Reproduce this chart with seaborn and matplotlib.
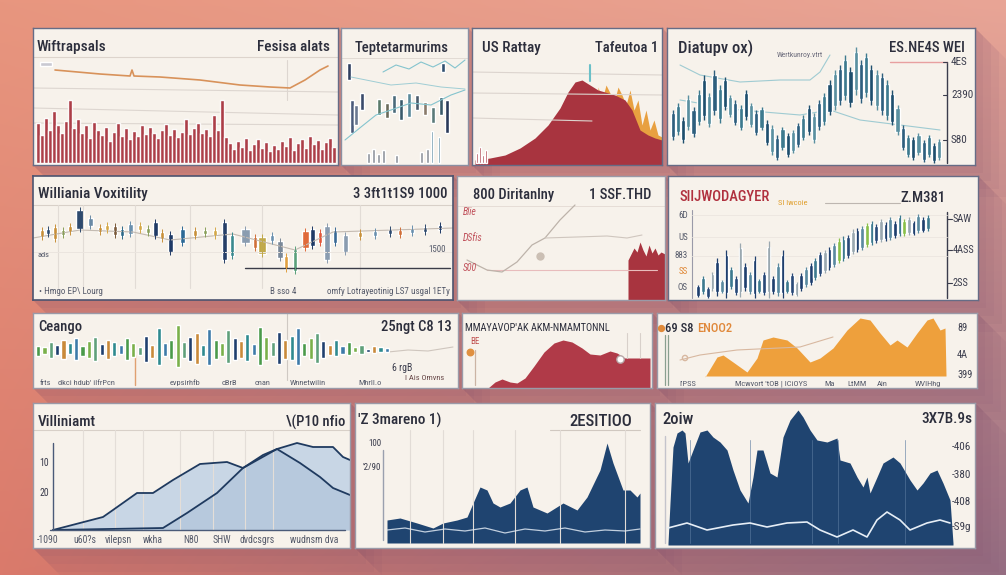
import numpy as np
import matplotlib
matplotlib.use("Agg")
import matplotlib.pyplot as plt
import matplotlib.colors as mcolors
from matplotlib.patches import Polygon
import seaborn as sns

# ---------------------------------------------------------------- data
# Panel A: spiky dark-red volume bars and an orange price line
A_bars = [40, 28, 45, 33, 52, 38, 30, 42, 63, 35, 44,
          30, 38, 25, 41, 33, 28, 36, 22, 31, 40, 27, 35, 24,
          32, 27, 38, 29, 36, 30, 25, 33, 39, 28, 34, 26,
          31, 44, 29, 35, 40, 30, 34, 27, 48, 33, 63, 26,
          20, 14, 22, 16, 25, 13, 19, 24, 15, 21, 12, 18,
          14, 22, 17, 26, 13, 20, 24, 15, 27, 19, 23, 14, 21, 25, 16]
A_line_x = [22, 67, 97, 99, 101, 127, 167, 207, 237, 257, 272, 287, 295]
A_line_y = [95, 91, 89, 95, 89, 88, 85, 80, 78, 77, 85, 95, 99]

# Panel B: candles and thin cyan lines
B_x = [8, 11, 15, 21, 38, 46, 53, 60, 68, 76, 84, 92, 100, 106, 102]
B_lo = [85, 32, 40, 55, 50, 47, 52, 45, 48, 55, 50, 42, 50, 32, 93]
B_hi = [102, 65, 60, 72, 66, 62, 70, 66, 72, 70, 63, 58, 68, 65, 102]
B_col = ['#2f3f5f', '#4a5a7a', '#6a7890', '#3a4a6a', '#5a7a6a', '#6a6a5a', '#4a6a7a',
         '#3a5a6a', '#5a8a9a', '#4a5a6a', '#8a7a6a', '#5a7a7a', '#3a5a6a', '#2a3a5a', '#2f4f6f']
B_small_x = [27, 32, 37, 42, 55, 80, 86]
B_small_h = [10, 14, 9, 13, 8, 11, 14]
B_tall_x = [91, 98]
B_tall_h = [32, 26]
B_l1_x = [4, 20, 35, 50, 70, 90, 110, 124]
B_l1_y = [25, 38, 50, 55, 62, 60, 70, 75]
B_l2_x = [42, 55, 68, 80, 92, 104, 114, 124]
B_l2_y = [93, 100, 96, 103, 98, 104, 97, 105]
B_l3_x = [10, 30, 50, 75, 100, 124]
B_l3_y = [88, 84, 80, 82, 78, 76]

# Panel C: red mountain with orange spikes
C_x = [3, 18, 33, 48, 63, 76, 88, 96, 103, 110, 118, 126, 133, 143, 153, 160, 168, 176, 183, 190]
C_y = [5, 7, 10, 17, 27, 40, 57, 73, 83, 85, 80, 75, 73, 70, 65, 55, 35, 30, 27, 25]
C_or_x = [126, 130, 134, 138, 142, 146, 150, 154, 158, 162, 166, 170, 174, 178, 182, 186, 190]
C_or_y = [78, 65, 80, 72, 62, 78, 70, 60, 75, 55, 65, 40, 55, 35, 45, 30, 28]
C_small_x = [5, 8, 11, 14]
C_small_h = [10, 16, 8, 13]

# Panel D: dense blue candles
D_lo = [25, 30, 22, 35, 28, 40, 45, 38, 50, 42, 55, 48, 40, 35, 45, 38, 30, 35,
        20, 10, 5, 15, 8, 12, 18, 25, 30, 22, 35, 40, 50, 55, 60, 65, 58, 70,
        62, 68, 60, 55, 50, 45, 40, 30, 15, 8, 5, 10, 3, 8, 2, 5]
D_hi = [55, 62, 48, 70, 58, 75, 90, 72, 95, 80, 88, 70, 65, 60, 75, 62, 55, 58,
        45, 40, 30, 38, 32, 35, 42, 50, 60, 52, 65, 72, 85, 95, 100, 110, 98, 118,
        105, 112, 100, 95, 92, 85, 75, 60, 40, 30, 28, 32, 25, 30, 22, 26]
D_l1_x = [13, 33, 73, 113, 143, 153, 163]
D_l1_y = [100, 90, 83, 85, 85, 93, 110]
D_l2_x = [13, 73, 133, 163, 193, 233, 273]
D_l2_y = [65, 55, 50, 55, 45, 40, 35]
D_ticks = ['4ES', '2390', 'S80']
D_tick_y = [103, 70, 25]

# Panel E: multicolour candles
E_x = [9, 15, 22, 30, 37, 47, 57, 67, 74, 82, 89, 97, 107, 115, 122, 129, 137, 149, 162, 172,
       182, 191, 199, 212, 222, 229, 239, 247, 253, 262, 272, 279, 287, 294, 302, 312, 327, 342,
       357, 367, 379, 392, 407]
E_lo = [63, 66, 61, 65, 68, 71, 74, 68, 70, 65, 64, 66, 70, 67, 64, 61, 48, 57, 64, 66,
        64, 40, 44, 57, 52, 46, 59, 42, 31, 29, 52, 54, 57, 40, 57, 48, 63, 64, 66, 65, 67, 68, 70]
E_hi = [70, 71, 73, 70, 74, 90, 82, 73, 75, 74, 71, 76, 75, 72, 78, 68, 66, 71, 70, 70,
        70, 78, 65, 71, 63, 63, 65, 59, 44, 51, 69, 71, 68, 74, 70, 65, 68, 69, 71, 70, 72, 73, 75]
E_w = [3, 3, 3, 3, 3, 7, 4, 3, 3, 3, 3, 4, 3, 3, 4, 3, 4, 4, 3, 3,
       3, 4, 3, 8, 3, 7, 3, 5, 3, 3, 6, 4, 3, 5, 3, 4, 3, 3, 3, 3, 3, 3, 3]
E_col = ['#c8903a', '#2e4a6e', '#c8903a', '#8aa05a', '#c8903a', '#2e4a6e', '#6a8aa5', '#c8903a',
         '#d4a848', '#7a5a3a', '#2e6a8a', '#6a90ae', '#d4a848', '#8aa05a', '#1f3a66', '#c8903a',
         '#1f3a66', '#2e6a96', '#c8903a', '#8aa05a', '#d4a848', '#263f68', '#3a8a8f', '#8a9cb0',
         '#d0703a', '#c0a848', '#6a90ae', '#7a8898', '#e0a040', '#5aa07a', '#e06a3a', '#1f3a66',
         '#e2583a', '#8a9cb0', '#3a6a96', '#8a9cb0', '#c8903a', '#6a90ae', '#2e4a6e', '#d0703a',
         '#6a90ae', '#2e4a6e', '#1f3a66']
E_trend_x = [0, 47, 100, 137, 200, 262, 300, 420]
E_trend_y = [62, 70, 68, 60, 66, 50, 68, 72]

# Panel F
F_l1_x = [10, 30, 45, 60, 75, 88, 103, 118]
F_l1_y = [40, 30, 28, 38, 55, 62, 80, 95]
F_l2_x = [88, 120, 150, 170, 185]
F_l2_y = [62, 63, 64, 62, 65]
F_red_x = [171, 174, 177, 180, 183, 186, 189, 192, 195, 198, 201, 204, 208]
F_red_y = [40, 46, 52, 48, 58, 50, 44, 55, 47, 52, 45, 48, 46]
F_ticks = ['Blie', 'DSfis', 'S00']
F_tick_y = [88, 62, 32]

# Panel G: rising candles
G_lo = [3, 6, 2, 9, 4, 7, 2, 11, 5, 3, 9, 6, 2, 7,
        5, 2, 6, 4, 2, 7, 5, 4,
        9, 13, 15, 20, 24, 27, 30, 33, 37, 39, 42, 46, 48, 50,
        53, 55, 57, 58, 59, 60, 62, 64, 64, 65, 65, 67, 68, 69]
G_hi = [15, 24, 13, 28, 42, 20, 50, 33, 24, 57, 37, 28, 44, 21,
        28, 59, 24, 37, 50, 20, 27, 18,
        27, 33, 37, 42, 48, 50, 53, 57, 62, 64, 65, 71, 72, 74,
        77, 79, 76, 81, 78, 83, 79, 85, 81, 83, 79, 86, 83, 85]
G_left_ticks = ['6D', 'US', '883', 'SS', 'OS']
G_left_y = [85, 63, 44, 28, 12]
G_right_ticks = ['SAW', '4ASS', '2SS']
G_right_y = [81, 50, 17]

# Panel H: colourful strip of bars
H_hi = [60, 58, 66, 62, 70, 64, 72, 60, 68, 74, 63, 70, 66, 61, 72, 65, 58, 76, 62, 88,
        64, 70, 92, 66, 74, 80, 62, 86, 70, 64, 84, 72, 68, 78, 63, 90, 74, 66, 82, 70,
        76, 88, 64, 72, 80, 68, 62, 70, 60, 66, 58, 62, 56, 60, 58, 57]
H_lo = [45, 48, 42, 46, 40, 47, 38, 44, 42, 36, 46, 40, 44, 47, 38, 43, 46, 35, 42, 30,
        44, 40, 28, 42, 36, 32, 45, 30, 40, 44, 34, 38, 42, 36, 46, 30, 38, 44, 32, 40,
        38, 30, 44, 40, 34, 42, 46, 44, 48, 46, 50, 48, 50, 49, 50, 51]
H_tail_x = [355, 375, 395, 420]
H_tail_y = [36, 38, 37, 41]
H_xlabels = ['frts', "dkci hdub' ilfrPcn", 'evpsirhfb', 'cBrB', 'cnan', 'Wnnetwilin', 'Mhrll.o']
H_xlabel_x = [7, 25, 137, 189, 222, 257, 325]

# Panel I: red hill
I_x = [26, 33, 40, 48, 55, 63, 72, 82, 92, 101, 110, 120, 128, 138, 148, 155, 163, 175, 188]
I_y = [0, 6, 9, 6, 5, 10, 22, 36, 45, 48, 46, 40, 34, 33, 37, 35, 30, 30, 30]

# Panel J: orange ridge
J_x = [48, 60, 66, 76, 90, 100, 106, 116, 130, 140, 153, 163, 176, 190, 203, 213, 223,
       233, 240, 250, 260, 270, 276, 283, 288, 289]
J_y = [11, 31, 33, 26, 16, 30, 48, 51, 48, 40, 26, 30, 40, 58, 70, 68, 55,
       43, 48, 41, 55, 68, 70, 58, 60, 13]
J_line_x = [23, 43, 80, 143, 176]
J_line_y = [28, 33, 38, 41, 51]
J_ticks = ['89', '4A', '399']
J_tick_y = [60, 33, 13]
J_xlabels = ["I'PSS", "Mcwvort 'tOB | ICiOYS", 'Ma', 'LtMM', 'Ain', 'WVIHhg']
J_xlabel_x = [22, 78, 167, 190, 220, 258]

# Panel K: two light-blue areas
K_l1_x = [20, 70, 80, 104, 120, 140, 167, 194, 210, 230, 244, 264, 280, 300, 310, 317]
K_l1_y = [18, 31, 38, 55, 55, 68, 84, 86, 80, 93, 99, 105, 101, 101, 91, 88]
K_l2_x = [20, 130, 154, 184, 210, 244, 267, 287, 300, 317]
K_l2_y = [18, 20, 35, 55, 80, 99, 85, 71, 60, 53]
K_ticks = ['10', '20']
K_tick_y = [85, 55]
K_xlabels = ['-1090', 'u60?s', 'vilepsn', 'wkha', 'N80', 'SHW', 'dvdcsgrs', 'wudnsm dva']
K_xlabel_x = [4, 40, 72, 110, 150, 180, 207, 257]

# Panel L: navy area
L_x = [32, 45, 62, 78, 88, 102, 112, 118, 125, 132, 138, 145, 155, 165, 172, 178, 192, 208,
       222, 232, 245, 252, 258, 268, 275, 282, 285]
L_y = [28, 30, 25, 20, 25, 28, 31, 45, 61, 58, 45, 41, 45, 58, 61, 41, 35, 45,
       38, 51, 78, 105, 85, 58, 58, 51, 55]
L_w_x = [32, 50, 70, 90, 110, 130, 150, 170, 190, 210, 230, 250, 270, 285]
L_w_y = [18, 20, 16, 19, 17, 20, 15, 19, 17, 20, 16, 18, 17, 19]
L_ticks = ['100', "'2/90"]
L_tick_y = [104, 80]

# Panel M: big navy area
M_x = [13, 15, 18, 22, 27, 30, 33, 38, 45, 52, 58, 65, 72, 78, 85, 93, 98, 102, 108, 115,
       122, 128, 135, 143, 148, 155, 162, 172, 182, 185, 195, 202, 208, 212, 215, 222, 228,
       238, 245, 255, 262, 268, 275, 282, 288, 295, 298]
M_y = [5, 45, 101, 115, 118, 115, 85, 98, 116, 118, 111, 106, 98, 78, 58, 45, 71, 98, 98, 75,
       71, 111, 128, 138, 131, 118, 108, 106, 110, 88, 85, 71, 61, 71, 55, 71, 85,
       91, 85, 68, 58, 65, 75, 78, 65, 48, 5]
M_w_x = [13, 32, 52, 78, 95, 112, 132, 152, 165, 182, 198, 212, 222, 232, 245, 255, 272, 285, 295]
M_w_y = [20, 25, 18, 23, 25, 21, 25, 26, 18, 11, 18, 11, 28, 36, 28, 18, 25, 28, 25]
M_ticks = ['-406', '-380', '-408', '-S9g']
M_tick_y = [101, 73, 46, 21]

# ---------------------------------------------------------------- style
sns.set_theme(style="white")
plt.rcParams['font.family'] = ['Roboto Condensed', 'Archivo Narrow', 'PT Sans Narrow',
                               'Liberation Sans', 'DejaVu Sans']

FW, FH = 1006, 575
CREAM = '#f7f2eb'
INK = '#2c2e3c'
RED = '#a8343f'
NAVY = '#1f4470'

fig = plt.figure(figsize=(FW / 100, FH / 100), dpi=100)

# boxes (left, top, right, bottom) in pixels
BOX = {
    'A': (33, 28, 338, 165), 'B': (341, 28, 468, 165), 'C': (472, 28, 662, 165),
    'D': (667, 28, 975, 165), 'E': (33, 176, 453, 300), 'F': (457, 176, 665, 300),
    'G': (668, 176, 978, 300), 'H': (33, 313, 458, 388), 'I': (462, 313, 652, 388),
    'J': (657, 313, 977, 388), 'K': (33, 403, 350, 548), 'L': (355, 403, 650, 548),
    'M': (655, 403, 975, 548),
}


def px_axes(x0, y0, x1, y1, z):
    return fig.add_axes([x0 / FW, 1 - y1 / FH, (x1 - x0) / FW, (y1 - y0) / FH], zorder=z)


# background gradient + soft extruded shadows
bg = px_axes(0, 0, FW, FH, 0)
gx, gy = np.meshgrid(np.linspace(0, 1, 240), np.linspace(0, 1, 140))
TL, TR, BL, BR = [np.array(mcolors.to_rgb(c)) for c in ('#e8967f', '#e9a596', '#da7a6b', '#987084')]
img = (TL * ((1 - gx) * (1 - gy))[..., None] + TR * (gx * (1 - gy))[..., None]
       + BL * ((1 - gx) * gy)[..., None] + BR * (gx * gy)[..., None])
bg.imshow(img, extent=(0, FW, FH, 0), aspect='auto', interpolation='bilinear')
for key, (x0, y0, x1, y1) in BOX.items():
    for d in (8, 16, 24, 32):
        poly = Polygon([(x1, y0), (x1 + d, y0 + d), (x1 + d, y1 + d), (x0 + d, y1 + d), (x0, y1), (x1, y1)],
                       closed=True, facecolor='#7a4a6a', alpha=0.07, edgecolor='none')
        bg.add_patch(poly)
bg.set_xlim(0, FW)
bg.set_ylim(FH, 0)
bg.axis('off')


def card(key, edge='#666c86', lw=1.0):
    x0, y0, x1, y1 = BOX[key]
    ax = px_axes(x0, y0, x1, y1, 3)
    ax.set_facecolor(CREAM)
    ax.set_xlim(0, x1 - x0)
    ax.set_ylim(0, y1 - y0)
    ax.set_xticks([])
    ax.set_yticks([])
    ax.grid(False)
    for s in ax.spines.values():
        s.set_color(edge)
        s.set_linewidth(lw)
    return ax


def inner(key, x0, x1, xlim):
    _, y0, _, y1 = BOX[key]
    ax = px_axes(x0, y0, x1, y1, 4)
    ax.patch.set_alpha(0)
    ax.set_xlim(*xlim)
    ax.set_ylim(0, y1 - y0)
    ax.axis('off')
    return ax


def line(ax, x, y, color, lw=1.0, alpha=1.0):
    sns.lineplot(x=x, y=y, ax=ax, sort=False, estimator=None, color=color,
                 linewidth=lw, alpha=alpha, legend=False)


def title(ax, x, y, s, size=11, ha='left', color=INK, weight='medium'):
    ax.text(x, y, s, fontsize=size, ha=ha, va='center', color=color, fontweight=weight)


def small(ax, x, y, s, size=6, ha='left', color='#555a6a'):
    ax.text(x, y, s, fontsize=size, ha=ha, va='center', color=color)


# ---------------------------------------------------------------- panel A
ax = card('A')
title(ax, 4, 118, 'Wiftrapsals', 11)
title(ax, 297, 118, 'Fesisa alats', 11, ha='right')
ax.plot([0, 305], [108, 108], color='#ddd4cc', lw=0.8)
for yy0, yy1 in [(77, 73), (57, 50), (42, 40)]:
    ax.plot([0, 305], [yy0, yy1], color='#ddd6d0', lw=0.8)
ax.plot([254, 254], [65, 105], color='#ddd6d0', lw=0.8)
ax.bar([13], [4], bottom=[99], width=12, color='#c9c9d2')
line(ax, A_line_x, A_line_y, '#d8925a', 1.2)
axA = inner('A', 36, 336, (-0.5, len(A_bars) - 0.5))
axA.bar(np.arange(len(A_bars)), A_bars, bottom=2, width=0.85, color=RED, alpha=0.95)

# ---------------------------------------------------------------- panel B
ax = card('B', edge='#8a8fa2')
title(ax, 14, 117, 'Teptetarmurims', 10.5)
ax.plot([0, 127], [107, 107], color='#e2dbd4', lw=0.7)
line(ax, B_l1_x, B_l1_y, '#84c4ce', 0.8)
line(ax, B_l2_x, B_l2_y, '#84c4ce', 0.8)
line(ax, B_l3_x, B_l3_y, '#9fcdd4', 0.7)
ax.bar(B_x, np.subtract(B_hi, B_lo), bottom=B_lo, width=3.6, color=B_col)
ax.bar(B_small_x, B_small_h, bottom=2, width=3, color='#8e949c')
ax.bar(B_tall_x, B_tall_h, bottom=2, width=1.5, color='#5a8aa0')

# ---------------------------------------------------------------- panel C
ax = card('C')
title(ax, 10, 117, 'US Rattay', 11)
title(ax, 186, 117, 'Tafeutoa 1', 10.5, ha='right')
for (xa, ya), (xb, yb) in [((0, 93), (190, 90)), ((0, 72), (190, 70)), ((0, 47), (120, 44))]:
    ax.plot([xa, xb], [ya, yb], color='#dcd4ce', lw=0.8)
ax.fill_between(C_or_x, 0, C_or_y, color='#e8a040', lw=0)
ax.fill_between(C_x, 0, C_y, color=RED, lw=0)
ax.bar(C_small_x, C_small_h, bottom=2, width=1.5, color=RED)
ax.plot([118, 118], [84, 100], color='#6ac0c8', lw=1.5)

# ---------------------------------------------------------------- panel D
ax = card('D')
title(ax, 11, 117, 'Diatupv ox)', 12)
title(ax, 298, 117, 'ES.NE4S WEI', 10.5, ha='right')
small(ax, 110, 110, 'Wertkunroy.vtrt', 5.5, color='#6a6a7a')
line(ax, D_l1_x, D_l1_y, '#9fcbd2', 0.8)
line(ax, D_l2_x, D_l2_y, '#9fcbd2', 0.8)
ax.plot([280, 280], [2, 103], color='#3a3c4c', lw=1.0)
ax.plot([223, 280], [103, 103], color='#e8a0a0', lw=1.0)
for s, yy in zip(D_ticks, D_tick_y):
    ax.plot([276, 280], [yy, yy], color='#3a3c4c', lw=0.8)
    small(ax, 284, yy, s, 8, color='#3a3c4c')
axD = inner('D', 670, 942, (-0.5, len(D_lo) - 0.5))
D_pal = ['#2e5f7e', '#3d7a8f', '#1f4f6e', '#5a90a0']
D_colors = [D_pal[i % 4] for i in range(len(D_lo))]
axD.vlines(np.arange(len(D_lo)), D_lo, D_hi, colors=D_colors, lw=1.0)
axD.bar(np.arange(len(D_lo)), np.subtract(D_hi, D_lo) * 0.8, bottom=np.array(D_lo) + np.subtract(D_hi, D_lo) * 0.1,
        width=0.8, color=D_colors)

# ---------------------------------------------------------------- panel E
ax = card('E', edge='#4c5470', lw=1.2)
title(ax, 5, 106, 'Williania Voxitility', 11)
title(ax, 414, 106, '3 3ft1t1S9 1000', 10.5, ha='right')
ax.plot([0, 420], [95, 95], color='#d8d0c8', lw=0.8)
for xx in [25, 50, 102, 157, 229, 327]:
    ax.plot([xx, xx], [12, 95], color='#e2dcd6', lw=0.8)
ax.plot([0, 420], [48, 48], color='#ebe5df', lw=0.7)
line(ax, E_trend_x, E_trend_y, '#c4bbb2', 0.8)
ax.plot([212, 417], [32, 32], color='#3a3c48', lw=1.0)
ax.vlines(E_x, np.array(E_lo) - 3, np.array(E_hi) + 3, colors=E_col, lw=0.7)
ax.bar(E_x, np.subtract(E_hi, E_lo), bottom=E_lo, width=np.array(E_w) + 1, color=E_col)
small(ax, 6, 8, '\u2022 Hmgo EP\\ Lourg', 6.5)
small(ax, 237, 8, 'B sso 4', 6.5)
small(ax, 417, 8, 'omfy Lotrayeotinig LS7 usgal 1ETy', 6.5, ha='right')
small(ax, 5, 45, 'ads', 6)
small(ax, 413, 50, '1500', 6.5, ha='right')

# ---------------------------------------------------------------- panel F
ax = card('F', edge='#9a9aa8')
title(ax, 16, 105, '800 Diritanlny', 10.5)
title(ax, 194, 105, '1 SSF.THD', 10.5, ha='right')
ax.plot([0, 208], [94, 94], color='#e6ddd6', lw=0.7)
for s, yy in zip(F_ticks, F_tick_y):
    ax.text(6, yy, s, fontsize=7, color='#c0505a', style='italic', va='center')
ax.plot([30, 200], [30, 30], color='#e8bcbc', lw=0.8)
line(ax, F_l1_x, F_l1_y, '#bdb3aa', 0.9)
line(ax, F_l2_x, F_l2_y, '#cfc6be', 0.8)
ax.scatter([83], [44], s=25, color='#cbbfb4', zorder=5)
ax.fill_between(F_red_x, 0, F_red_y, color=RED, lw=0)

# ---------------------------------------------------------------- panel G
ax = card('G')
title(ax, 12, 103, 'SIIJWODAGYER', 10.5, color='#b0303e')
small(ax, 110, 97, 'SI Iwcoie', 6, color='#e0a030')
ax.plot([157, 232], [97, 97], color='#bdb6b0', lw=0.8)
title(ax, 277, 102, 'Z.M381', 10.5, ha='right')
ax.plot([24, 24], [2, 90], color='#9a9aa8', lw=0.8)
ax.plot([279, 279], [2, 88], color='#3a3c4c', lw=1.0)
for s, yy in zip(G_left_ticks, G_left_y):
    small(ax, 20, yy, s, 6.5, ha='right', color='#e08a3a' if s == 'SS' else '#555a6a')
for s, yy in zip(G_right_ticks, G_right_y):
    ax.plot([279, 284], [yy, yy], color='#3a3c4c', lw=0.8)
    small(ax, 285, yy, s, 7.5, color='#3a3c4c')
for yy in [85, 63, 44]:
    ax.plot([24, 279], [yy, yy], color='#ece6e0', lw=0.6)
axG = inner('G', 696, 930, (-0.5, len(G_lo) - 0.5))
G_pal = ['#1f3f6e', '#3d7a8f', '#2a4a78', '#9aa8b0', '#1f3f6e', '#5a8aa0']
G_colors = [G_pal[i % 6] for i in range(len(G_lo))]
for i in (30, 36, 44):
    G_colors[i] = '#8ac04a'
axG.vlines(np.arange(len(G_lo)), G_lo, G_hi, colors=G_colors, lw=0.9)
axG.bar(np.arange(len(G_lo)), np.subtract(G_hi, G_lo) * 0.8, bottom=np.array(G_lo) + np.subtract(G_hi, G_lo) * 0.1,
        width=0.8, color=G_colors)

# ---------------------------------------------------------------- panel H
ax = card('H', edge='#9a9aa8')
title(ax, 5, 61, 'Ceango', 10.5)
title(ax, 419, 61, '25ngt C8 13', 10.5, ha='right')
ax.plot([254, 254], [8, 75], color='#cfc9c3', lw=0.8)
line(ax, H_tail_x, H_tail_y, '#cfc6be', 0.8)
ax.plot([102, 102], [3, 33], color='#e0a070', lw=1.0)
ax.bar([30], [10], bottom=[34], width=7, color='#d08040')
small(ax, 359, 20, '6 rgB', 7, color='#3a3c4c')
small(ax, 372, 10, 'I Ais Omvns', 6, color='#6a4a4a')
for s, xx in zip(H_xlabels, H_xlabel_x):
    small(ax, xx, 5, s, 6)
axH = inner('H', 35, 390, (-0.5, len(H_hi) - 0.5))
axH.set_ylim(-5, 111)
H_pal = ['#4a9a4a', '#2e8a8f', '#1f3f6e', '#7ab04a', '#3d7aa8', '#c98a3a', '#5fa07a']
H_colors = [H_pal[(i * 3) % 7] for i in range(len(H_hi))]
axH.bar(np.arange(len(H_hi)), np.subtract(H_hi, H_lo), bottom=H_lo, width=0.65, color=H_colors)

# ---------------------------------------------------------------- panel I
ax = card('I', edge='#9a9aa8')
small(ax, 3, 60, "MMAYAVOP'AK AKM-NMAMTONNL", 7.5, color=INK)
small(ax, 8, 46, 'BE', 6.5, color='#c05050')
ax.plot([13, 13], [3, 38], color='#cbb4a4', lw=0.9)
ax.scatter([8], [36], s=22, color='#e09040', zorder=5)
ax.fill_between(I_x, 0, I_y, color='#b03a48', lw=0)
ax.scatter([158], [29], s=28, color='white', edgecolor='#b8a8a8', zorder=5)
for xx in [165, 178]:
    ax.plot([xx, xx], [30, 55], color='#d8d0ca', lw=0.8)

# ---------------------------------------------------------------- panel J
ax = card('J', edge='#9a9aa8')
ax.scatter([4], [60], s=18, color='#e08a3a', zorder=5)
title(ax, 8, 60, '69 S8', 9)
title(ax, 40, 60, 'ENOO2', 9, color='#e0883a')
for xx in [8, 11]:
    ax.plot([xx, xx], [3, 53], color='#8aa090', lw=0.9)
line(ax, J_line_x, J_line_y, '#d8b8a0', 0.8)
ax.scatter([28], [30], s=14, facecolor='none', edgecolor='#d8b8a0')
ax.fill_between(J_x, 12, J_y, color='#eea03c', lw=0)
for s, yy in zip(J_ticks, J_tick_y):
    small(ax, 300, yy, s, 7.5, color='#3a3c4c')
for s, xx in zip(J_xlabels, J_xlabel_x):
    small(ax, xx, 4, s, 6)

# ---------------------------------------------------------------- panel K
ax = card('K', edge='#9a9aa8')
title(ax, 5, 126, 'Villiniamt', 11)
title(ax, 312, 126, '\\(P10 nfio', 10.5, ha='right')
ax.plot([0, 317], [118, 118], color='#d8d0c8', lw=0.8)
for xx in [50, 82, 110, 147, 180, 212, 240]:
    ax.plot([xx, xx], [18, 118], color='#e4ded8', lw=0.8)
ax.fill_between(K_l1_x, 18, K_l1_y, color='#c6d5e5', lw=0, alpha=0.95)
ax.fill_between(K_l2_x, 18, K_l2_y, color='#b3c6db', lw=0, alpha=0.8)
line(ax, K_l1_x, K_l1_y, '#1f3a5f', 1.3)
line(ax, K_l2_x, K_l2_y, '#1f3a5f', 1.3)
ax.plot([20, 20], [18, 105], color='#4a5a78', lw=1.0)
ax.plot([17, 312], [18, 18], color='#4a5a78', lw=1.0)
for s, yy in zip(K_ticks, K_tick_y):
    small(ax, 16, yy, s, 7, ha='right', color='#3a3c4c')
for s, xx in zip(K_xlabels, K_xlabel_x):
    small(ax, xx, 8, s, 7)

# ---------------------------------------------------------------- panel L
ax = card('L', edge='#9a9aa8')
title(ax, 3, 128, "'Z 3mareno 1)", 11)
title(ax, 277, 127, '2ESITIOO', 12, ha='right')
ax.plot([195, 285], [118, 118], color='#d0c8c0', lw=0.8)
for xx in [55, 88, 118, 160, 205, 270]:
    ax.plot([xx, xx], [5, 118], color='#e2dcd6', lw=0.8)
for s, yy in zip(L_ticks, L_tick_y):
    small(ax, 26, yy, s, 6.5, ha='right', color='#3a3c4c')
ax.plot([28, 28], [8, 98], color='#9aa0ae', lw=1.0)
ax.fill_between(L_x, 5, L_y, color=NAVY, lw=0)
line(ax, L_w_x, L_w_y, '#dfe8f2', 0.9, alpha=0.85)

# ---------------------------------------------------------------- panel M
ax = card('M', edge='#9a9aa8')
title(ax, 7, 129, '2oiw', 12)
title(ax, 317, 129, '3X7B.9s', 11, ha='right')
ax.plot([10, 10], [5, 112], color='#c4c4cc', lw=1.0)
ax.fill_between(M_x, 3, M_y, color=NAVY, lw=0)
for xx in [35, 95, 157, 183, 250]:
    ax.plot([xx, xx], [5, 108], color='#5a7aa0', lw=0.7, alpha=0.6)
line(ax, M_w_x, M_w_y, '#e6eef6', 1.2)
for s, yy in zip(M_ticks, M_tick_y):
    small(ax, 297, yy, s, 8, color='#3a3c4c')

fig.savefig('out.png', dpi=100)
